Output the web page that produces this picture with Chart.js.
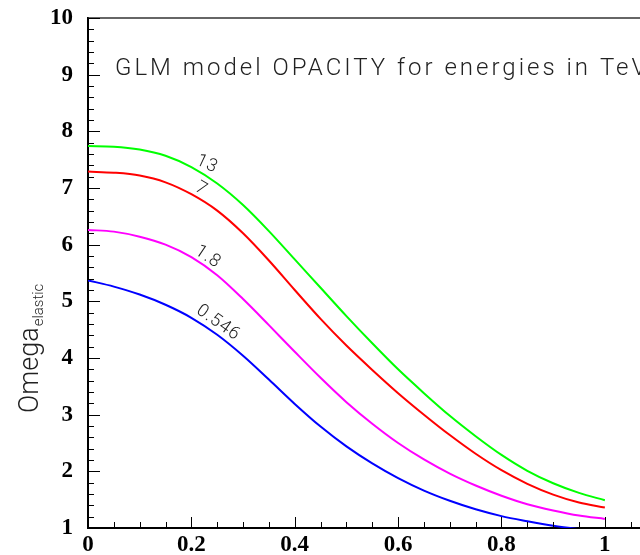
<!DOCTYPE html>
<html>
<head>
<meta charset="utf-8">
<title>GLM model opacity</title>
<script src="https://cdn.jsdelivr.net/npm/chart.js@4.4.1/dist/chart.umd.min.js"></script>
<style>
    html, body { margin: 0; padding: 0; background: #fff; }
    #wrap { width: 640px; height: 555px; }
</style>
</head>
<body>
<div id="wrap"><canvas id="opacityChart" width="640" height="555"></canvas></div>
<script>
// impact parameter b (fm) and Omega_elastic for each energy (TeV)
const impactB = [0, 0.05, 0.1, 0.15, 0.2, 0.25, 0.3, 0.35, 0.4, 0.45, 0.5,
                 0.55, 0.6, 0.65, 0.7, 0.75, 0.8, 0.85, 0.9, 0.95, 1.0];
const omega13 = [7.74, 7.73, 7.68, 7.57, 7.37, 7.08, 6.70, 6.24, 5.74, 5.24, 4.74,
                 4.26, 3.80, 3.38, 2.98, 2.62, 2.29, 2.01, 1.79, 1.62, 1.49];
const omega7 = [7.29, 7.27, 7.22, 7.10, 6.89, 6.60, 6.20, 5.72, 5.20, 4.69, 4.22,
                3.79, 3.38, 3.00, 2.64, 2.31, 2.02, 1.78, 1.59, 1.45, 1.36];
const omega1p8 = [6.26, 6.23, 6.14, 6.00, 5.78, 5.46, 5.04, 4.58, 4.11, 3.65, 3.22,
                  2.84, 2.50, 2.21, 1.96, 1.75, 1.57, 1.42, 1.31, 1.22, 1.16];
const omega0p546 = [5.37, 5.26, 5.12, 4.94, 4.71, 4.41, 4.04, 3.62, 3.19, 2.79, 2.44,
                    2.14, 1.88, 1.66, 1.48, 1.33, 1.21, 1.12, 1.04, 0.98, 0.93];

const energyLabels = ['13', '7', '1.8', '0.546'];
const seriesValues = [omega13, omega7, omega1p8, omega0p546];
const seriesColors = ['#00ff00', '#ff0000', '#ff00ff', '#0000ff'];
// where each energy label sits along its curve (b, Omega)
const labelB = [0.230, 0.219, 0.232, 0.252];
const labelOmega = [7.42, 6.98, 5.78, 4.62];
const labelAngles = [25, 30, 34, 35];

const xTickValues = [0, 0.2, 0.4, 0.6, 0.8, 1];
const yTickValues = [1, 2, 3, 4, 5, 6, 7, 8, 9, 10];

const titleText = 'GLM model OPACITY for energies in TeV';
const thinFont = '"Roboto", "DejaVu Sans", sans-serif';
const tickFont = { family: '"Liberation Serif", "Times New Roman", serif', weight: 'bold', size: 23 };

// inward ticks, top frame line, title, curve labels and the y axis title
const decorPlugin = {
    id: 'decor',
    afterDraw(chart) {
        const ctx = chart.ctx;
        const area = chart.chartArea;
        const xs = chart.scales.x;
        const ys = chart.scales.y;

        ctx.save();
        // top frame
        ctx.strokeStyle = '#333';
        ctx.lineWidth = 1.5;
        ctx.beginPath();
        ctx.moveTo(area.left, area.top);
        ctx.lineTo(area.right, area.top);
        ctx.stroke();

        // x ticks every 0.05, major every 0.2
        ctx.strokeStyle = '#000';
        ctx.lineWidth = 1;
        for (let i = 1; i * 0.05 <= xs.max; i++) {
            const px = Math.round(xs.getPixelForValue(i * 0.05)) + 0.5;
            const len = (i % 4 === 0) ? 11 : 6;
            ctx.beginPath();
            ctx.moveTo(px, area.bottom);
            ctx.lineTo(px, area.bottom - len);
            ctx.stroke();
        }
        // y ticks every 0.2, major every 1
        for (let i = 1; i <= 45; i++) {
            const py = Math.round(ys.getPixelForValue(1 + i * 0.2)) + 0.5;
            const len = (i % 5 === 0) ? 12 : 6;
            ctx.beginPath();
            ctx.moveTo(area.left, py);
            ctx.lineTo(area.left + len, py);
            ctx.stroke();
        }

        // title
        ctx.fillStyle = '#222';
        ctx.font = '300 24px ' + thinFont;
        ctx.letterSpacing = '3px';
        ctx.textBaseline = 'alphabetic';
        ctx.textAlign = 'left';
        ctx.fillText(titleText, area.left + 27, area.top + 57);

        // energy labels on the curves
        ctx.font = '300 18px ' + thinFont;
        ctx.letterSpacing = '1px';
        ctx.textAlign = 'center';
        ctx.textBaseline = 'middle';
        energyLabels.forEach((txt, i) => {
            const px = xs.getPixelForValue(labelB[i]);
            const py = ys.getPixelForValue(labelOmega[i]);
            ctx.save();
            ctx.translate(px, py);
            ctx.rotate(labelAngles[i] * Math.PI / 180);
            ctx.fillText(txt, 0, 0);
            ctx.restore();
        });

        // y axis title with subscript
        ctx.letterSpacing = '0px';
        ctx.textAlign = 'left';
        ctx.textBaseline = 'alphabetic';
        ctx.translate(38, 413);
        ctx.rotate(-Math.PI / 2);
        ctx.font = '300 27px ' + thinFont;
        ctx.fillText('Omega', 0, 0);
        const w = ctx.measureText('Omega').width;
        ctx.font = '300 15px ' + thinFont;
        ctx.fillText('elastic', w + 1, 5);
        ctx.restore();
    }
};

function buildDatasets() {
    return seriesValues.map((vals, i) => ({
        label: energyLabels[i],
        data: impactB.map((b, j) => ({ x: b, y: vals[j] })),
        borderColor: seriesColors[i],
        borderWidth: 2,
        pointRadius: 0,
        fill: false,
        cubicInterpolationMode: 'monotone'
    }));
}

document.addEventListener('DOMContentLoaded', function() {
    const ctx = document.getElementById('opacityChart').getContext('2d');
    new Chart(ctx, {
        type: 'line',
        data: { datasets: buildDatasets() },
        options: {
            responsive: false,
            animation: false,
            devicePixelRatio: 1,
            layout: { padding: { top: 18, right: 0, left: 0, bottom: 0 } },
            plugins: {
                legend: { display: false },
                tooltip: { enabled: false },
                title: { display: false }
            },
            scales: {
                x: {
                    type: 'linear',
                    min: 0,
                    max: 1.068,
                    afterFit: scale => {
                        scale.height = 27;
                        scale.paddingLeft = 0;
                        scale.paddingRight = 0;
                    },
                    afterBuildTicks: scale => {
                        scale.ticks = xTickValues.map(v => ({ value: v }));
                    },
                    grid: { display: false, drawTicks: false },
                    border: { display: true, color: '#000', width: 2 },
                    ticks: {
                        padding: 3,
                        color: '#000',
                        maxRotation: 0,
                        font: tickFont,
                        callback: v => String(+v.toFixed(2))
                    }
                },
                y: {
                    type: 'linear',
                    min: 1,
                    max: 10,
                    afterFit: scale => {
                        scale.width = 88;
                        scale.paddingTop = 0;
                        scale.paddingBottom = 0;
                    },
                    afterBuildTicks: scale => {
                        scale.ticks = yTickValues.map(v => ({ value: v }));
                    },
                    grid: { display: false, drawTicks: false },
                    border: { display: true, color: '#000', width: 2 },
                    ticks: {
                        padding: 15,
                        color: '#000',
                        font: tickFont
                    }
                }
            }
        },
        plugins: [decorPlugin]
    });
});
</script>
</body>
</html>
